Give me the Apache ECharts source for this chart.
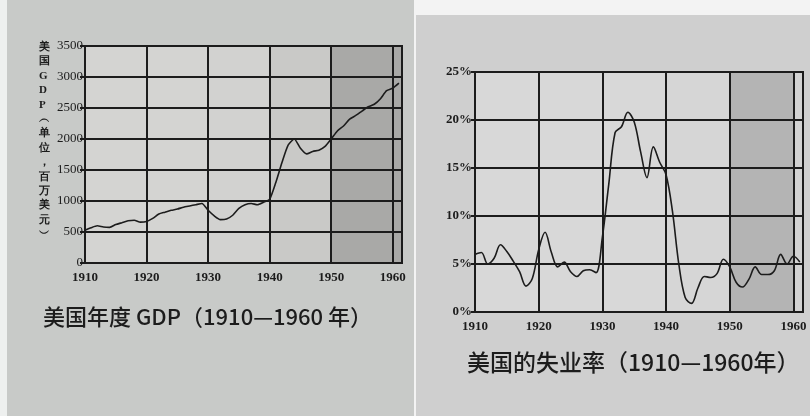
<!DOCTYPE html>
<html>
<head>
<meta charset="utf-8">
<script src="https://cdn.jsdelivr.net/npm/echarts@6/dist/echarts.min.js"></script>
<style>
html,body{margin:0;padding:0;background:#c9cac8;}
#c{width:810px;height:416px;}
</style>
</head>
<body>
<div id="c"></div>
<script>
// ---- Data ----
const gdpYears = [1910,1911,1912,1913,1914,1915,1916,1917,1918,1919,
  1920,1921,1922,1923,1924,1925,1926,1927,1928,1929,
  1930,1931,1932,1933,1934,1935,1936,1937,1938,1939,
  1940,1941,1942,1943,1944,1945,1946,1947,1948,1949,
  1950,1951,1952,1953,1954,1955,1956,1957,1958,1959,1960,1961];
const gdpValues = [530,570,600,580,575,620,650,680,690,660,
  670,720,790,820,850,870,900,920,940,960,
  850,760,700,710,770,880,940,960,940,980,
  1030,1300,1620,1900,2000,1850,1760,1800,1820,1880,
  2000,2130,2210,2320,2380,2450,2520,2560,2650,2780,2820,2900];

const unempYears = [1910,1911,1912,1913,1914,1915,1916,1917,1918,1919,
  1920,1921,1922,1923,1924,1925,1926,1927,1928,1929,
  1930,1931,1932,1933,1934,1935,1936,1937,1938,1939,
  1940,1941,1942,1943,1944,1945,1946,1947,1948,1949,
  1950,1951,1952,1953,1954,1955,1956,1957,1958,1959,1960,1961];
const unempValues = [6.0,6.2,5.0,5.6,7.0,6.3,5.3,4.2,2.7,3.5,
  6.5,8.3,6.2,4.7,5.2,4.2,3.7,4.3,4.4,4.1,
  7.8,13.3,18.7,19.3,20.8,19.8,16.7,14.0,17.2,15.6,
  14.3,10.5,5.0,1.5,0.9,2.5,3.7,3.6,4.0,5.5,
  4.7,3.1,2.6,3.4,4.7,3.9,3.9,4.3,6.0,5.0,5.8,5.2];

const gdpTicks = [0,500,1000,1500,2000,2500,3000,3500];
const unempTicks = ['0%','5%','10%','15%','20%','25%'];
const decadeLabels = [1910,1920,1930,1940,1950,1960];

const leftTitle = '美国年度 GDP（1910—1960 年）';
const rightTitle = '美国的失业率（1910—1960年）';
const gdpAxisName = '美国GDP︵单位，百万美元︶';

// ---- Chart ----
const chart = echarts.init(document.getElementById('c'));
const ink = '#1c1c1c';
const serif = '"Liberation Serif","DejaVu Serif",serif';
const cjk = '"Noto Sans CJK SC","Noto Sans",sans-serif';

function xAxisCfg(gridIndex, max, areaColors){
  return {
    type:'value', gridIndex, min:1910, max, interval:10, z:0,
    axisLine:{show:true,lineStyle:{color:ink,width:2}},
    axisTick:{show:false},
    axisLabel:{color:ink,fontFamily:serif,fontSize:13,fontWeight:'bold',margin:8,
      showMaxLabel:false,
      formatter:v=> decadeLabels.includes(v) ? String(v) : ''},
    splitLine:{show:true,lineStyle:{color:ink,width:2}},
    splitArea:{show:true,areaStyle:{color:areaColors}}
  };
}

const option = {
  animation:false,
  backgroundColor:'#c9cac8',
  graphic:[
    {type:'rect',z:-100,shape:{x:0,y:0,width:414,height:416},style:{fill:'#c8cac8'}},
    {type:'rect',z:-100,shape:{x:0,y:0,width:7,height:416},style:{fill:'#eef0ef'}},
    {type:'rect',z:-100,shape:{x:414,y:0,width:396,height:416},style:{fill:'#f3f3f3'}},
    {type:'rect',z:-99,shape:{x:416,y:15,width:394,height:401},style:{fill:'#cfcfcf'}},
    {type:'text',z:10,left:39,top:40,style:{
      text:gdpAxisName.split('').join('\n'),
      font:'bold 11px '+serif,fill:ink,lineHeight:14.4,align:'center'}}
  ],
  title:[
    {text:leftTitle,left:38,top:301,textStyle:{fontFamily:cjk,fontSize:22,fontWeight:500,color:ink}},
    {text:rightTitle,left:462,top:346,textStyle:{fontFamily:cjk,fontSize:23,fontWeight:500,color:ink}}
  ],
  grid:[
    {left:85,top:46,width:317,height:217,show:true,borderColor:ink,borderWidth:2,backgroundColor:'transparent'},
    {left:475,top:72,width:328,height:240,show:true,borderColor:ink,borderWidth:2,backgroundColor:'transparent'}
  ],
  xAxis:[
    xAxisCfg(0,1961.5,['#d4d4d2','#d4d4d2','#d2d2d0','#c9c9c7','#a9a9a7','#a9a9a7']),
    xAxisCfg(1,1961.5,['#d8d8d8','#d8d8d8','#d8d8d8','#d6d6d6','#b4b4b4','#d2d2d2'])
  ],
  yAxis:[
    {type:'value',gridIndex:0,min:0,max:3500,interval:500,z:1,
      axisLine:{show:true,lineStyle:{color:ink,width:2}},
      axisTick:{show:true,length:5,lineStyle:{color:ink,width:2}},
      axisLabel:{color:ink,fontFamily:serif,fontSize:13,margin:2,
        formatter:v=> gdpTicks.includes(v) ? String(v) : ''},
      splitLine:{show:true,lineStyle:{color:ink,width:2}}},
    {type:'value',gridIndex:1,min:0,max:25,interval:5,z:1,
      axisLine:{show:true,lineStyle:{color:ink,width:2}},
      axisTick:{show:true,length:4,lineStyle:{color:ink,width:2}},
      axisLabel:{color:ink,fontFamily:serif,fontSize:13,fontWeight:'bold',margin:3,
        formatter:v=> unempTicks[v/5] || ''},
      splitLine:{show:true,lineStyle:{color:ink,width:2}}}
  ],
  series:[
    {type:'line',xAxisIndex:0,yAxisIndex:0,showSymbol:false,smooth:0.2,z:5,
      lineStyle:{color:ink,width:1.6},
      data:gdpYears.map((y,i)=>[y,gdpValues[i]])},
    {type:'line',xAxisIndex:1,yAxisIndex:1,showSymbol:false,smooth:0.35,z:5,
      lineStyle:{color:ink,width:1.6},
      data:unempYears.map((y,i)=>[y,unempValues[i]])}
  ]
};
chart.setOption(option);
</script>
</body>
</html>
